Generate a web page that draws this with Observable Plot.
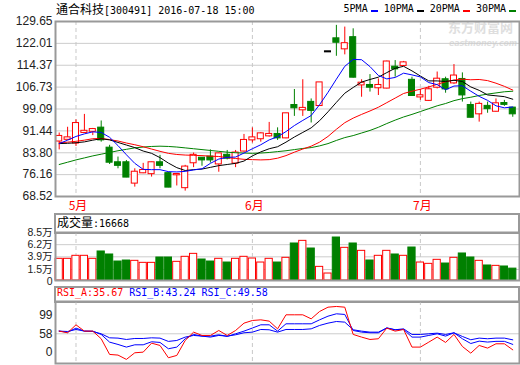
<!DOCTYPE html>
<html><head><meta charset="utf-8">
<script src="https://cdn.jsdelivr.net/npm/d3@7"></script>
<script src="https://cdn.jsdelivr.net/npm/@observablehq/plot@0.6"></script>
<style>
body{margin:0;background:#fff;}
#wrap{position:relative;width:520px;height:365px;overflow:hidden;background:#fff;}
#wrap svg{position:absolute;left:0;top:0;}
.lbl{position:absolute;white-space:nowrap;font-family:"DejaVu Sans Mono",monospace;font-size:10px;line-height:12px;color:#000;}
.cjk{font-family:"Noto Sans CJK SC";font-size:12px;}
.box{position:absolute;border:2px solid #999;box-sizing:border-box;}
.leg{display:flex;align-items:center;}
.leg i{display:inline-block;width:7px;height:2px;margin:3px 6px 0 3px;}
.wm{position:absolute;color:#dedede;font-weight:bold;white-space:nowrap;}
</style></head><body><div id="wrap"></div>
<script>
const dates = ["2016-04-28","2016-04-29",
"2016-05-03","2016-05-04","2016-05-05","2016-05-06",
"2016-05-09","2016-05-10","2016-05-11","2016-05-12","2016-05-13",
"2016-05-16","2016-05-17","2016-05-18","2016-05-19","2016-05-20",
"2016-05-23","2016-05-24","2016-05-25","2016-05-26","2016-05-27",
"2016-05-30","2016-05-31",
"2016-06-01","2016-06-02","2016-06-03","2016-06-06","2016-06-07","2016-06-08",
"2016-06-13","2016-06-14","2016-06-15","2016-06-16","2016-06-17",
"2016-06-20","2016-06-21","2016-06-22","2016-06-23","2016-06-24",
"2016-06-27","2016-06-28","2016-06-29","2016-06-30",
"2016-07-01","2016-07-04","2016-07-05","2016-07-06","2016-07-07","2016-07-08",
"2016-07-11","2016-07-12","2016-07-13","2016-07-14","2016-07-15","2016-07-18"];
const open  = [87.9,88.5,87.2,90.9,91.3,92.4,85.4,80.3,80.3,73.2,76.8,76.5,80.3,76.5,76.1,71.6,80.3,81.9,82.3,79.9,82.9,80.2,84.4,88.3,88.7,89.7,90.2,89.0,100.3,98.8,101.4,100.3,119.05,123.6,120.1,124.0,107.5,107.3,106.5,106.4,113.7,114.3,109.1,103.3,102.1,106.7,109.3,108.2,109.4,100.3,97.4,100.0,98.3,101.0,99.4];
const high  = [90.7,92.7,95.3,97.2,92.3,94.9,86.4,82.3,81.1,78.2,80.1,80.5,82.9,77.0,76.3,79.4,83.7,82.0,84.8,83.7,84.6,84.6,90.2,92.5,90.8,94.4,92.5,97.6,105.9,109.3,102.6,108.3,119.05,128.3,127.7,127.1,109.3,111.1,109.6,115.8,116.0,115.7,110.2,105.9,107.0,112.0,110.2,114.6,111.7,101.5,101.5,101.5,102.6,102.1,99.5];
const low   = [84.8,88.3,86.0,90.7,89.8,87.5,79.7,78.2,75.1,71.8,76.5,75.3,78.2,71.6,72.2,70.4,78.6,79.1,80.2,77.0,81.3,78.6,84.0,87.2,87.5,89.3,88.1,88.7,96.5,96.5,94.2,100.0,119.05,117.5,118.0,109.9,103.2,105.0,103.8,106.1,110.2,114.1,103.5,102.1,101.7,106.1,104.6,107.7,101.5,96.0,94.5,97.6,98.0,100.0,96.2];
const close = [89.5,89.0,94.0,91.3,91.9,88.3,80.5,79.4,75.3,77.0,77.6,80.3,79.4,71.8,76.2,78.8,82.9,81.3,81.3,83.4,81.9,83.7,88.1,89.0,90.4,90.2,89.0,97.4,99.5,99.3,98.6,108.2,119.05,122.4,121.9,110.2,108.1,106.7,107.3,115.5,113.1,115.2,103.8,103.7,105.8,109.5,106.1,110.6,104.0,96.2,100.7,99.2,100.9,100.7,97.4];
const volume = [35200,35200,40900,40900,35200,49100,43400,30100,32000,31400,27600,27600,37700,37700,29500,39000,44600,33900,30100,35200,28200,35200,39000,35800,28200,35200,28200,37100,64200,69200,54700,20000,7400,75500,56000,64200,50300,32000,40900,50300,43400,40900,56600,28200,25700,33300,26300,37100,45300,37700,31400,22600,21900,20700,16668];
const ma5  = [87.0,88.2,89.5,90.4,91.1,90.9,89.2,86.3,83.1,80.1,78.0,77.9,77.9,77.2,77.1,77.3,77.8,78.2,80.1,81.6,82.2,82.3,83.7,85.2,86.6,88.3,89.4,91.2,93.3,95.1,96.8,100.6,104.9,109.5,114.0,116.4,116.3,113.9,110.8,109.6,110.1,111.6,111.0,110.3,108.3,107.6,105.8,107.1,107.2,105.3,103.5,102.1,100.2,99.5,99.8];
const ma10 = [87.0,87.1,87.3,87.6,88.2,88.7,88.3,87.4,86.5,85.6,84.4,83.6,82.1,80.2,78.6,77.6,77.9,78.1,78.7,79.3,79.7,80.1,80.9,82.7,84.1,85.2,85.9,87.5,89.3,90.9,92.5,95.0,98.1,101.4,104.6,106.6,108.5,109.4,110.2,111.8,113.3,114.0,112.4,110.6,108.9,108.9,108.7,109.1,108.7,106.8,105.6,104.0,103.7,103.4,102.5];
const ma20 = [87.3,87.5,87.8,88.2,88.7,88.8,88.4,87.9,87.2,86.6,85.9,85.1,84.3,83.6,83.2,83.0,82.9,82.8,82.6,82.5,82.1,81.8,81.5,81.4,81.3,81.4,81.9,82.8,84.0,85.1,86.1,87.5,89.5,92.0,94.3,95.9,97.2,98.4,99.7,101.3,102.9,104.5,105.3,106.0,106.8,107.7,108.6,109.2,109.5,109.3,109.4,109.0,108.1,107.0,105.7];
const ma30 = [79.7,80.5,81.3,82.0,82.7,83.3,83.9,84.5,85.0,85.5,85.8,86.0,86.1,86.0,85.8,85.5,85.2,84.9,84.6,84.3,84.0,83.8,83.7,83.6,83.7,83.9,84.2,84.5,84.9,85.3,85.6,86.2,87.0,88.1,89.1,89.8,90.7,91.6,92.7,94.0,95.2,96.3,97.2,98.2,99.2,100.2,101.0,102.0,102.7,103.2,103.8,104.3,104.7,105.1,105.3];
const rsiA = [61.7,59.4,70.5,61.7,61.7,51.1,29.3,28.4,22.4,31.6,32.5,45.0,41.8,24.7,27.9,48.7,60.3,55.7,55.7,62.6,55.7,62.6,72.8,76.5,77.4,75.6,64.9,84.4,84.4,84.4,78.8,89.0,95.0,96.0,95.0,57.1,53.4,50.1,51.1,65.9,61.7,64.0,39.5,39.5,46.4,53.4,46.0,57.1,40.4,31.1,41.8,38.1,44.1,44.1,35.67];
const rsiB = [61.7,60.3,65.9,61.7,61.7,57.1,46.4,43.2,39.5,42.7,42.7,46.9,46.0,37.2,39.5,51.1,57.1,54.8,54.8,56.6,54.3,58.0,61.7,66.0,70.5,70.5,61.7,71.9,71.9,71.9,71.9,77.4,82.5,85.8,84.9,62.6,60.3,59.4,59.4,66.3,63.6,64.0,53.4,53.4,55.7,58.0,54.8,59.4,51.1,44.5,47.8,46.5,47.5,47.5,43.24];
const rsiC = [61.7,61.2,64.0,61.7,61.2,58.0,52.4,52.0,50.1,51.5,51.5,52.4,52.0,47.4,48.7,53.4,55.7,54.8,53.4,55.7,54.8,56.6,59.4,60.3,64.0,63.6,60.3,64.0,64.0,64.0,64.9,69.6,72.8,75.1,74.2,63.6,61.7,60.3,60.3,65.9,63.6,64.9,57.1,57.1,58.0,58.9,57.1,59.4,54.3,49.7,52.0,51.1,52.0,52.0,49.58];
const priceTicks = [68.52,76.16,83.80,91.44,99.09,106.73,114.37,122.01,129.65];
const volTicks = [15000,39000,62000,85000];
const rsiRef = [58];

const RED="#ff0000", GREEN="#008000", BLUE="#0000ff";
const bars = dates.map((d,i)=>({i,date:d,open:open[i],high:high[i],low:low[i],close:close[i],vol:volume[i],
  ma5:ma5[i],ma10:ma10[i],ma20:ma20[i],ma30:ma30[i],ra:rsiA[i],rb:rsiB[i],rc:rsiC[i]}));
const col = d => d.close>d.open?RED:(d.close<d.open?GREEN:"#000");
const monthIdx = [];
dates.forEach((d,i)=>{ if(i>0 && d.slice(5,7)!==dates[i-1].slice(5,7)) monthIdx.push(i); });
const W=520,H=365,ML=55,MR=1;
const xd=[-0.44,54.8];
const volMin=-5800;
const base = {width:W,height:H,marginLeft:ML,marginRight:MR,
  style:{background:"transparent",fontFamily:"Liberation Sans",fontSize:"12px",overflow:"visible"},
  color:{type:"identity"}};
const dash = Plot.ruleX(monthIdx,{stroke:"#c8c8c8",strokeDasharray:"4,3"});
const tickStyle = {tickSize:0,tickPadding:3,fill:"#222",fontSize:12,label:null};

const price = Plot.plot({...base, marginTop:21, marginBottom:H-196,
  x:{domain:xd,axis:null,label:null}, y:{domain:[68.52,129.65],axis:null,label:null},
  marks:[
    Plot.gridY(priceTicks,{stroke:"#ccc",strokeOpacity:1}),
    dash,
    Plot.ruleX(bars,{x:"i",y1:"low",y2:"high",stroke:col}),
    Plot.rect(bars,{x1:d=>d.i-0.36,x2:d=>d.i+0.36,y1:"open",y2:"close",
      fill:d=>d.close>d.open?"#fff":col(d),stroke:col,insetTop:-0.5,insetBottom:-0.5}),
    Plot.line(bars,{x:"i",y:"ma30",stroke:GREEN,strokeWidth:1}),
    Plot.line(bars,{x:"i",y:"ma20",stroke:RED,strokeWidth:1}),
    Plot.line(bars,{x:"i",y:"ma10",stroke:"#000",strokeWidth:1}),
    Plot.line(bars,{x:"i",y:"ma5",stroke:BLUE,strokeWidth:1}),
    Plot.frame({stroke:"#999",strokeWidth:2}),
    Plot.axisY(priceTicks,{...tickStyle,tickFormat:d=>d.toFixed(2)}),
    Plot.axisX(monthIdx,{tickSize:0,tickPadding:5,dx:2,fill:RED,fontSize:12,fontFamily:"Noto Sans CJK SC",label:null,
      tickFormat:i=>(+dates[i].slice(5,7))+"月"})
  ]});

const vcol = d => d.close>=d.open?RED:GREEN;
const vol = Plot.plot({...base, marginTop:232, marginBottom:H-280,
  x:{domain:xd,axis:null,label:null}, y:{domain:[volMin,85000],axis:null,label:null},
  marks:[
    Plot.gridY(volTicks.slice(0,-1),{stroke:"#ccc",strokeOpacity:1}),
    dash,
    Plot.rect(bars,{x1:d=>d.i-0.43,x2:d=>d.i+0.43,y1:volMin,y2:"vol",
      fill:d=>d.close>=d.open?"#fff":GREEN,stroke:vcol}),
    Plot.frame({stroke:"#999",strokeWidth:2}),
    Plot.axisY(volTicks,{...tickStyle,fontSize:10.5,fontFamily:"Liberation Sans, Noto Sans CJK SC",
      tickFormat:d=>(d/10000).toFixed(1)+"万"}),
    Plot.text(["0"],{frameAnchor:"bottom-left",dx:-3,dy:4,textAnchor:"end",fill:"#222",fontSize:10.5})
  ]});

const rsi = Plot.plot({...base, marginTop:301, marginBottom:H-363,
  x:{domain:xd,axis:null,label:null}, y:{domain:[16.7,102.9],axis:null,label:null},
  marks:[
    Plot.gridY(rsiRef,{stroke:"#ccc",strokeOpacity:1}),
    dash,
    Plot.line(bars,{x:"i",y:"rc",stroke:BLUE,strokeWidth:1}),
    Plot.line(bars,{x:"i",y:"rb",stroke:BLUE,strokeWidth:1}),
    Plot.line(bars,{x:"i",y:"ra",stroke:RED,strokeWidth:1}),
    Plot.frame({stroke:"#999",strokeWidth:2}),
    Plot.axisY(rsiRef,{...tickStyle}),
    Plot.text(["99"],{frameAnchor:"top-left",dx:-3,dy:9,textAnchor:"end",fill:"#222",fontSize:12}),
    Plot.text(["0"],{frameAnchor:"bottom-left",dx:-3,dy:-8,textAnchor:"end",fill:"#222",fontSize:12})
  ]});

const wrap = document.getElementById("wrap");
wrap.innerHTML = `
<div class="wm" style="left:448px;top:20px;font-family:'Noto Sans CJK SC';font-size:13px;line-height:14px;">东方财富网</div>
<div class="wm" style="left:449px;top:40px;font-family:'DejaVu Sans';font-style:italic;font-size:8px;line-height:8px;letter-spacing:-0.2px;">eastmoney.com</div>
<div class="box" style="left:54px;top:213px;width:466px;height:21px;"></div>
<div class="box" style="left:54px;top:286px;width:466px;height:17px;"></div>`;
wrap.appendChild(price); wrap.appendChild(vol); wrap.appendChild(rsi);
const addLbl = (html, style) => { const d=document.createElement("div"); d.className="lbl"; d.setAttribute("style",style); d.innerHTML=html; wrap.appendChild(d); };
addLbl(`<span class="cjk">通合科技</span>[300491] 2016-07-18 15:00`, "left:56px;top:3px;");
addLbl(`<div class="leg"><span>5PMA</span><i style="background:${BLUE}"></i><span>10PMA</span><i style="background:#000"></i><span>20PMA</span><i style="background:${RED}"></i><span>30PMA</span><i style="background:${GREEN}"></i></div>`, "right:-2px;top:3px;");
addLbl(`<span class="cjk">成交量</span>:${volume[volume.length-1]}`, "left:57px;top:216px;");
addLbl(`<span style="color:${RED}">RSI_A:${rsiA[rsiA.length-1].toFixed(2)}</span> <span style="color:${BLUE}">RSI_B:${rsiB[rsiB.length-1].toFixed(2)}</span> <span style="color:${BLUE}">RSI_C:${rsiC[rsiC.length-1].toFixed(2)}</span>`, "left:57px;top:287px;line-height:11px;");
</script></body></html>
